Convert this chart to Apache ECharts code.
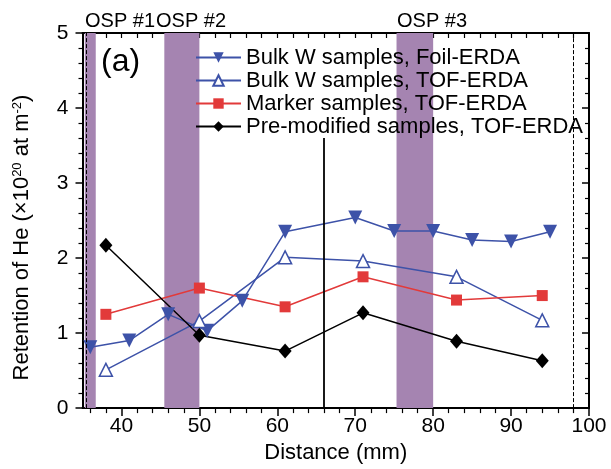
<!DOCTYPE html>
<html>
<head>
<meta charset="utf-8">
<script src="https://cdn.jsdelivr.net/npm/echarts@6/dist/echarts.min.js"></script>
<style>
html,body{margin:0;padding:0;background:#fff;}
#chart{width:611px;height:469px;}
</style>
</head>
<body>
<div id="chart"></div>
<script>
// ---- data ----
const seriesNames = ['Bulk W samples, Foil-ERDA', 'Bulk W samples, TOF-ERDA', 'Marker samples, TOF-ERDA', 'Pre-modified samples, TOF-ERDA'];
const foilX = [36, 41, 46, 51, 55.5, 61, 70, 75, 80, 85, 90, 95];
const foilY = [0.81, 0.90, 1.25, 1.03, 1.43, 2.35, 2.54, 2.36, 2.36, 2.24, 2.22, 2.35];
const tofX = [38, 50, 61, 71, 83, 94];
const tofY = [0.51, 1.16, 2.01, 1.96, 1.75, 1.17];
const markerX = [38, 50, 61, 71, 83, 94];
const markerY = [1.25, 1.60, 1.35, 1.75, 1.44, 1.50];
const premodX = [38, 50, 61, 71, 83, 94];
const premodY = [2.17, 0.97, 0.76, 1.27, 0.89, 0.63];
// OSP bands (mm)
const bandNames = ['OSP #1', 'OSP #2', 'OSP #3'];
const bandStart = [35.3, 45.5, 75.3];
const bandEnd = [36.7, 50.0, 80.0];
// vertical lines
const solidLineX = 66;
const solidLineTop = 3.6;
const dashedLinesX = [35.45, 98];
// axis ticks
const xMajorTicks = [40, 50, 60, 70, 80, 90, 100];
const xMinorTicks = [36, 38, 42, 44, 46, 48, 52, 54, 56, 58, 62, 64, 66, 68, 72, 74, 76, 78, 82, 84, 86, 88, 92, 94, 96, 98];
const xAllTicks = [36, 38, 40, 42, 44, 46, 48, 50, 52, 54, 56, 58, 60, 62, 64, 66, 68, 70, 72, 74, 76, 78, 80, 82, 84, 86, 88, 90, 92, 94, 96, 98];

const zip = (xs, ys) => xs.map((x, i) => [x, ys[i]]);
const FONT = 'Liberation Sans, Arial, Helvetica, sans-serif';
const BLUE = '#3d52a8';
const RED = '#e23a3a';

const chart = echarts.init(document.getElementById('chart'), null, {renderer: 'canvas'});

const common = {min: 35, max: 100, splitLine: {show: false}};
const option = {
  animation: false,
  backgroundColor: '#fff',
  textStyle: {fontFamily: FONT},
  grid: {left: 82.5, right: 22, top: 33, bottom: 57},
  legend: {
    data: seriesNames,
    orient: 'vertical',
    left: 195,
    top: 46,
    itemWidth: 45,
    itemHeight: 13,
    itemGap: 0,
    padding: 0,
    textStyle: {fontFamily: FONT, fontSize: 22, color: '#000', lineHeight: 23},
    backgroundColor: 'transparent'
  },
  xAxis: [
    Object.assign({}, common, {
      type: 'value', position: 'bottom',
      axisLine: {lineStyle: {color: '#000', width: 2}},
      axisTick: {customValues: xMajorTicks, length: 8, lineStyle: {color: '#000', width: 1.5}},
      axisLabel: {customValues: xMajorTicks, fontSize: 21, color: '#000', margin: 8, fontFamily: FONT},
      name: 'Distance (mm)', nameLocation: 'middle', nameGap: 31,
      nameTextStyle: {fontSize: 22, color: '#000', fontFamily: FONT}
    }),
    Object.assign({}, common, {
      type: 'value', position: 'bottom',
      axisLine: {show: false},
      axisTick: {customValues: xMinorTicks, length: 5, lineStyle: {color: '#000', width: 1.2}},
      axisLabel: {show: false}
    }),
    Object.assign({}, common, {
      type: 'value', position: 'top',
      axisLine: {lineStyle: {color: '#000', width: 2}},
      axisTick: {customValues: xAllTicks, inside: true, length: 5, lineStyle: {color: '#000', width: 1.2}},
      axisLabel: {show: false}
    })
  ],
  yAxis: [
    {
      type: 'value', position: 'left', min: 0, max: 5, interval: 1,
      splitLine: {show: false},
      axisLine: {show: true, lineStyle: {color: '#000', width: 2}},
      axisTick: {show: true, length: 7, lineStyle: {color: '#000', width: 1.5}},
      minorTick: {show: true, splitNumber: 5, length: 4, lineStyle: {color: '#000', width: 1.2}},
      axisLabel: {fontSize: 21, color: '#000', margin: 14, fontFamily: FONT},
      name: 'Retention of He (×10{sup|20} at m{sup|-2})',
      nameLocation: 'middle', nameGap: 50, nameRotate: 90,
      nameTextStyle: {fontSize: 22, color: '#000', fontFamily: FONT, padding: [0, 34, 0, 0],
        rich: {sup: {fontSize: 13, color: '#000', fontFamily: FONT, verticalAlign: 'top', padding: [0, 0, 9, 0]}}}
    },
    {
      type: 'value', position: 'right', min: 0, max: 5, interval: 1,
      splitLine: {show: false},
      axisLine: {show: true, lineStyle: {color: '#000', width: 2}},
      axisTick: {show: true, inside: true, length: 7, lineStyle: {color: '#000', width: 1.5}},
      minorTick: {show: true, splitNumber: 5, length: 4, lineStyle: {color: '#000', width: 1.2}},
      axisLabel: {show: false}
    }
  ],
  graphic: [
    {type: 'text', left: 85, top: 11, style: {text: bandNames[0], fontSize: 20, fill: '#000', fontFamily: FONT}},
    {type: 'text', left: 156, top: 11, style: {text: bandNames[1], fontSize: 20, fill: '#000', fontFamily: FONT}},
    {type: 'text', left: 397, top: 11, style: {text: bandNames[2], fontSize: 20, fill: '#000', fontFamily: FONT}},
    {type: 'text', left: 101, top: 46, style: {text: '(a)', fontSize: 32, fill: '#000', fontFamily: FONT}}
  ],
  series: [
    {
      name: 'bands', type: 'line', data: [], z: 0, silent: true,
      markArea: {
        silent: true,
        itemStyle: {color: '#a584b1'},
        label: {show: false},
        data: bandStart.map((s, i) => [{xAxis: s}, {xAxis: bandEnd[i]}])
      },
      markLine: {
        silent: true, symbol: 'none', label: {show: false},
        data: [
          [{coord: [solidLineX, 0]}, {coord: [solidLineX, solidLineTop]}],
          [{coord: [dashedLinesX[0], 0], lineStyle: {type: [4, 2], width: 1}}, {coord: [dashedLinesX[0], 5]}],
          [{coord: [dashedLinesX[1], 0], lineStyle: {type: [4, 2], width: 1}}, {coord: [dashedLinesX[1], 5]}]
        ],
        lineStyle: {color: '#000', width: 1.8, type: 'solid'}
      }
    },
    {
      name: seriesNames[0], type: 'line', data: zip(foilX, foilY), z: 3,
      symbol: 'triangle', symbolRotate: 180, symbolSize: 14,
      lineStyle: {color: BLUE, width: 1.5}, itemStyle: {color: BLUE}
    },
    {
      name: seriesNames[1], type: 'line', data: zip(tofX, tofY), z: 3,
      symbol: 'triangle', symbolSize: 13, showAllSymbol: true,
      lineStyle: {color: BLUE, width: 1.5}, itemStyle: {color: '#fff', borderColor: BLUE, borderWidth: 1.5}
    },
    {
      name: seriesNames[2], type: 'line', data: zip(markerX, markerY), z: 3,
      symbol: 'rect', symbolSize: 11,
      lineStyle: {color: RED, width: 1.5}, itemStyle: {color: RED}
    },
    {
      name: seriesNames[3], type: 'line', data: zip(premodX, premodY), z: 3,
      symbol: 'diamond', symbolSize: [13, 15],
      lineStyle: {color: '#000', width: 1.5}, itemStyle: {color: '#000'}
    }
  ]
};
chart.setOption(option);
</script>
</body>
</html>
